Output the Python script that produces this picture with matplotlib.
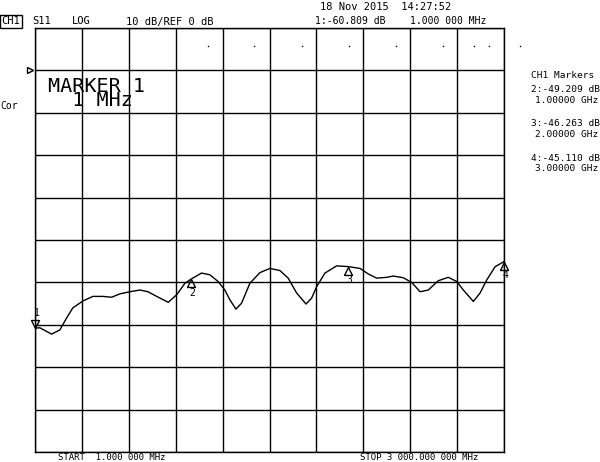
import numpy as np
import matplotlib.pyplot as plt
from matplotlib.path import Path
from matplotlib.transforms import blended_transform_factory

# S11 trace (GHz, dB)
freq_ghz = [0.001, 0.032, 0.107, 0.160, 0.203, 0.243, 0.307, 0.371, 0.435, 0.491,
            0.544, 0.608, 0.672, 0.723, 0.779, 0.853, 0.907, 0.960, 1.000, 1.066,
            1.119, 1.172, 1.215, 1.247, 1.286, 1.322, 1.375, 1.439, 1.503, 1.567,
            1.620, 1.674, 1.734, 1.770, 1.802, 1.855, 1.930, 2.000, 2.079, 2.132,
            2.186, 2.250, 2.292, 2.356, 2.410, 2.463, 2.516, 2.580, 2.644, 2.698,
            2.740, 2.804, 2.847, 2.890, 2.943, 3.000]
s11_db = [-60.8, -60.7, -62.2, -61.2, -58.4, -56.0, -54.4, -53.3, -53.3, -53.5,
          -52.7, -52.2, -51.8, -52.2, -53.3, -54.7, -52.9, -50.2, -49.2, -47.8,
          -48.2, -49.8, -51.8, -54.1, -56.3, -54.9, -50.2, -47.7, -46.7, -47.2,
          -49.0, -52.5, -55.1, -53.7, -51.0, -47.8, -46.1, -46.26, -46.7, -48.0,
          -49.0, -48.8, -48.5, -48.9, -50.0, -52.2, -51.8, -49.6, -48.8, -49.8,
          -51.8, -54.5, -52.5, -49.4, -46.3, -45.1]

# stray dots along the top row
dots_ghz = [1.105, 1.401, 1.708, 2.009, 2.309, 2.610, 2.808, 2.904, 3.103]
dots_db = [5.85, 5.85, 5.85, 5.85, 5.85, 5.85, 5.85, 5.85, 5.85]

marker_names = ["1", "2", "3", "4"]
marker_ghz = [0.001, 1.0, 2.0, 3.0]
marker_db = [-60.809, -49.209, -46.263, -45.110]
marker_freq_txt = ["1.000 000 MHz", "1.00000 GHz", "2.00000 GHz", "3.00000 GHz"]

start_ghz, stop_ghz = 0.001, 3.0
ref_db, db_per_div = 0.0, 10.0

W, H = 600, 462
MONO = "DejaVu Sans Mono"


def px(x, y):
    return x / W, 1 - y / H


fig = plt.figure(figsize=(W / 100, H / 100), dpi=100)
ax = fig.add_axes([35 / W, 1 - 452 / H, 469 / W, 424 / H])
ax.set_xlim(start_ghz, stop_ghz)
ax.set_ylim(ref_db - 9 * db_per_div, ref_db + db_per_div)
ax.set_xticks(np.linspace(start_ghz, stop_ghz, 11))
ax.set_yticks(np.arange(-90, 11, 10))
ax.tick_params(length=0, labelbottom=False, labelleft=False)
ax.grid(color="black", lw=1)
for s in ax.spines.values():
    s.set_linewidth(1)

ax.plot(freq_ghz, s11_db, color="black", lw=1)
ax.scatter(dots_ghz, dots_db, s=1.2, color="black", clip_on=False, lw=0)

# marker triangles, apex on the trace
codes = [Path.MOVETO, Path.LINETO, Path.LINETO, Path.CLOSEPOLY]
up = Path([(0, 0), (-1, -2), (1, -2), (0, 0)], codes)
down = Path([(0, 0), (-1, 2), (1, 2), (0, 0)], codes)
for i, name in enumerate(marker_names):
    tri = down if i == 0 else up
    ax.plot(marker_ghz[i], marker_db[i], marker=tri, ms=11.5, mfc="none",
            mec="black", mew=1, clip_on=False)
    dy = 11 if i == 0 else -9.8
    ax.annotate(name, (marker_ghz[i], marker_db[i]), xytext=(1, dy),
                textcoords="offset points", ha="center", va="center",
                family=MONO, fontsize=7)

# reference position arrow
tr = blended_transform_factory(ax.transAxes, ax.transData)
ax.plot(-5 / 469, ref_db, marker=">", ms=4, mfc="none", mec="black", mew=1,
        transform=tr, clip_on=False)

# header
fig.text(*px(320, 6.5), "18 Nov 2015  14:27:52", family=MONO, fontsize=7.5, va="center")
fig.text(*px(1.5, 21.5), "CH1", family=MONO, fontsize=7.5, va="center",
         bbox=dict(boxstyle="square,pad=0.12", fc="none", ec="black", lw=1))
fig.text(*px(32, 21.5), "S11", family=MONO, fontsize=7.5, va="center")
fig.text(*px(72, 21.5), "LOG", family=MONO, fontsize=7.5, va="center")
fig.text(*px(126, 21.5), "10 dB/REF 0 dB", family=MONO, fontsize=7.5, va="center")
fig.text(*px(315, 21.5), "1:%.3f dB" % marker_db[0], family=MONO, fontsize=7, va="center")
fig.text(*px(410, 21.5), marker_freq_txt[0], family=MONO, fontsize=7, va="center")

fig.text(*px(0, 106), "Cor", family=MONO, fontsize=7, va="center")
fig.text(*px(48, 105.7), "MARKER 1\n  1 MHz", family=MONO, fontsize=14.5,
         va="baseline", linespacing=0.68)

# marker table
fig.text(*px(531, 76), "CH1 Markers", family=MONO, fontsize=6.8, va="center")
rows_y = [90, 124, 158]
for i in range(1, 4):
    y = rows_y[i - 1]
    fig.text(*px(531, y), "%s:%.3f dB" % (marker_names[i], marker_db[i]),
             family=MONO, fontsize=6.8, va="center")
    fig.text(*px(535, y + 10.5), marker_freq_txt[i], family=MONO, fontsize=6.8, va="center")

# footer
fig.text(*px(58, 457.5), "START  1.000 000 MHz", family=MONO, fontsize=6.5, va="center")
fig.text(*px(360, 457.5), "STOP 3 000.000 000 MHz", family=MONO, fontsize=6.5, va="center")

fig.savefig("out.png", dpi=100)
